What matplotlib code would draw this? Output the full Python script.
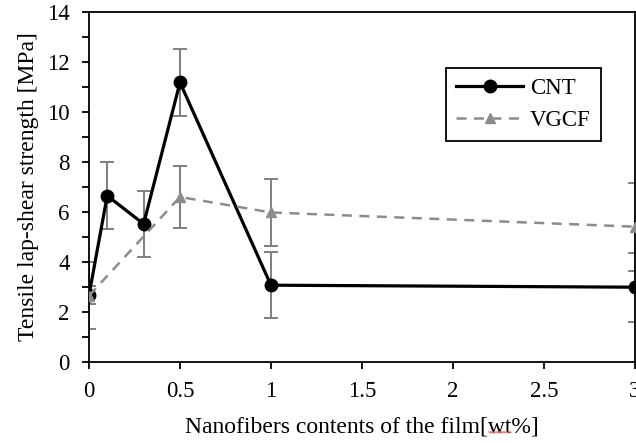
import matplotlib
matplotlib.use("Agg")
import numpy as np
import matplotlib.pyplot as plt
from matplotlib.ticker import MultipleLocator

# data
x_cnt = [0, 0.1, 0.3, 0.5, 1, 3]
y_cnt = [2.68, 6.65, 5.52, 11.18, 3.07, 2.99]
err_cnt = [0.35, 1.34, 1.33, 1.35, 1.33, 1.38]

x_vgcf = [0, 0.5, 1, 3]
y_vgcf = [2.65, 6.6, 5.98, 5.41]
err_vgcf = [1.35, 1.25, 1.33, 1.76]

xlabel_head = "Nanofibers contents of the film["
xlabel_word = "wt"
xlabel_tail = "%]"

plt.rcParams["font.family"] = ["Liberation Serif", "DejaVu Serif"]
plt.rcParams["font.size"] = 16.5

fig = plt.figure(figsize=(6.36, 4.43), dpi=100)
ax = fig.add_axes([0.14, 0.183, 0.858, 0.79])

err_color = "#7f7f7f"
ax.errorbar(x_cnt, y_cnt, yerr=err_cnt, fmt="none", ecolor=err_color,
            elinewidth=1.4, capsize=5, capthick=1.4, zorder=2)
ax.errorbar(x_vgcf, y_vgcf, yerr=err_vgcf, fmt="none", ecolor=err_color,
            elinewidth=1.4, capsize=5, capthick=1.4, zorder=2)

ax.plot(x_cnt, y_cnt, color="black", lw=2.3, marker="o", markersize=9,
        label="CNT", zorder=3)
ax.plot(x_vgcf, y_vgcf, color="#8c8c8c", lw=1.8, ls=(0, (4, 3)), marker="^",
        markersize=7.5, label="VGCF", zorder=4)

ax.set_xlim(0, 3)
ax.set_ylim(0, 14)
ax.set_xticks([0, 0.5, 1, 1.5, 2, 2.5, 3])
ax.set_xticklabels(["0", "0.5", "1", "1.5", "2", "2.5", "3"])
ax.yaxis.set_major_locator(MultipleLocator(2))
ax.yaxis.set_minor_locator(MultipleLocator(1))

ax.tick_params(axis="both", direction="out", length=5, width=1.3, pad=9)
ax.tick_params(axis="y", which="minor", direction="out", length=5, width=1.3)
for sp in ax.spines.values():
    sp.set_linewidth(1.3)

xl = ax.set_xlabel(xlabel_head + xlabel_word + xlabel_tail, fontsize=17, labelpad=10)
ax.set_ylabel("Tensile lap-shear strength [MPa]", fontsize=17, labelpad=6)

leg = ax.legend(loc="upper right", bbox_to_anchor=(0.938, 0.84), borderaxespad=0,
                fancybox=False, edgecolor="black", framealpha=1,
                handlelength=2.9, handletextpad=0.3, borderpad=0.45,
                labelspacing=0.45)
leg.get_frame().set_linewidth(1.3)

# faint red spell-check squiggle under "wt", as in the screenshot
fig.canvas.draw()
r = fig.canvas.get_renderer()
bb = xl.get_window_extent(r)
tmp = fig.text(0, 0, xlabel_head, fontsize=17)
w_head = tmp.get_window_extent(r).width
tmp.set_text(xlabel_head + xlabel_word)
w_word = tmp.get_window_extent(r).width
tmp.remove()
x0 = bb.x0 + w_head + 1
x1 = bb.x0 + w_word - 1
yb = bb.y0 + 5
xs = np.linspace(x0, x1, 25)
ys = yb + 0.8 * np.where(np.arange(25) % 2 == 0, 1, -1)
fig.add_artist(plt.Line2D(xs / fig.bbox.width, ys / fig.bbox.height,
                          transform=fig.transFigure, color="#e06060",
                          lw=0.8, alpha=0.8))

fig.savefig("out.png", dpi=100)
